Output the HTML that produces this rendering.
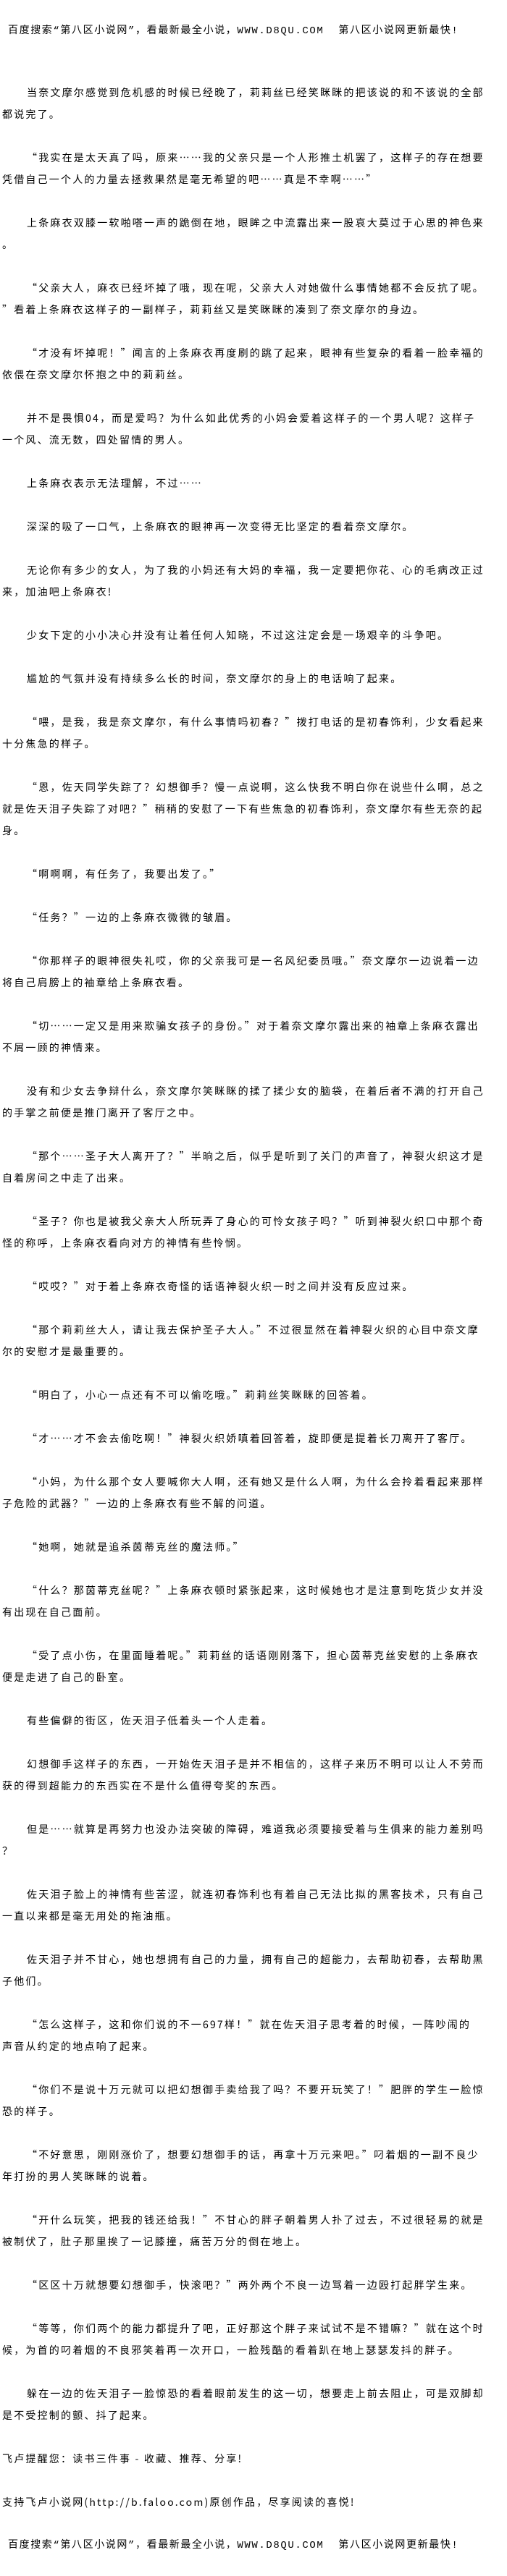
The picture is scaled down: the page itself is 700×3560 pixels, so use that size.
<!DOCTYPE html>
<html>
<head>
<meta charset="utf-8">
<style>
html,body{margin:0;padding:0;background:#fff;}
body{width:700px;height:3560px;overflow:hidden;position:relative;color:#000;
font-family:"Noto Sans CJK SC","Liberation Sans",sans-serif;font-size:14px;letter-spacing:2.2px;line-height:30px;}
.hd{position:absolute;left:11px;white-space:nowrap;font-family:"Liberation Mono","Noto Sans CJK SC",monospace;letter-spacing:1.6px;}
#main{position:absolute;left:3px;top:113px;width:697px;}
p{margin:0 0 30px 0;white-space:nowrap;text-indent:34px;}
p.ni{text-indent:0;}
</style>
</head>
<body>
<div class="hd" style="top:28px;">百度搜索“第八区小说网”，看最新最全小说，WWW.D8QU.COM&nbsp;&nbsp;第八区小说网更新最快!</div>
<div id="main">
<p>当奈文摩尔感觉到危机感的时候已经晚了，莉莉丝已经笑眯眯的把该说的和不该说的全部<br>都说完了。</p>
<p>“我实在是太天真了吗，原来……我的父亲只是一个人形推土机罢了，这样子的存在想要<br>凭借自己一个人的力量去拯救果然是毫无希望的吧……真是不幸啊……”</p>
<p>上条麻衣双膝一软啪嗒一声的跪倒在地，眼眸之中流露出来一股哀大莫过于心思的神色来<br>。</p>
<p>“父亲大人，麻衣已经坏掉了哦，现在呢，父亲大人对她做什么事情她都不会反抗了呢。<br>”看着上条麻衣这样子的一副样子，莉莉丝又是笑眯眯的凑到了奈文摩尔的身边。</p>
<p>“才没有坏掉呢！”闻言的上条麻衣再度刷的跳了起来，眼神有些复杂的看着一脸幸福的<br>依偎在奈文摩尔怀抱之中的莉莉丝。</p>
<p>并不是畏惧04，而是爱吗？为什么如此优秀的小妈会爱着这样子的一个男人呢？这样子<br>一个风、流无数，四处留情的男人。</p>
<p>上条麻衣表示无法理解，不过……</p>
<p>深深的吸了一口气，上条麻衣的眼神再一次变得无比坚定的看着奈文摩尔。</p>
<p>无论你有多少的女人，为了我的小妈还有大妈的幸福，我一定要把你花、心的毛病改正过<br>来，加油吧上条麻衣!</p>
<p>少女下定的小小决心并没有让着任何人知晓，不过这注定会是一场艰辛的斗争吧。</p>
<p>尴尬的气氛并没有持续多么长的时间，奈文摩尔的身上的电话响了起来。</p>
<p>“喂，是我，我是奈文摩尔，有什么事情吗初春？”拨打电话的是初春饰利，少女看起来<br>十分焦急的样子。</p>
<p>“恩，佐天同学失踪了？幻想御手？慢一点说啊，这么快我不明白你在说些什么啊，总之<br>就是佐天泪子失踪了对吧？”稍稍的安慰了一下有些焦急的初春饰利，奈文摩尔有些无奈的起<br>身。</p>
<p>“啊啊啊，有任务了，我要出发了。”</p>
<p>“任务？”一边的上条麻衣微微的皱眉。</p>
<p>“你那样子的眼神很失礼哎，你的父亲我可是一名风纪委员哦。”奈文摩尔一边说着一边<br>将自己肩膀上的袖章给上条麻衣看。</p>
<p>“切……一定又是用来欺骗女孩子的身份。”对于着奈文摩尔露出来的袖章上条麻衣露出<br>不屑一顾的神情来。</p>
<p>没有和少女去争辩什么，奈文摩尔笑眯眯的揉了揉少女的脑袋，在着后者不满的打开自己<br>的手掌之前便是推门离开了客厅之中。</p>
<p>“那个……圣子大人离开了？”半晌之后，似乎是听到了关门的声音了，神裂火织这才是<br>自着房间之中走了出来。</p>
<p>“圣子？你也是被我父亲大人所玩弄了身心的可怜女孩子吗？”听到神裂火织口中那个奇<br>怪的称呼，上条麻衣看向对方的神情有些怜悯。</p>
<p>“哎哎？”对于着上条麻衣奇怪的话语神裂火织一时之间并没有反应过来。</p>
<p>“那个莉莉丝大人，请让我去保护圣子大人。”不过很显然在着神裂火织的心目中奈文摩<br>尔的安慰才是最重要的。</p>
<p>“明白了，小心一点还有不可以偷吃哦。”莉莉丝笑眯眯的回答着。</p>
<p>“才……才不会去偷吃啊！”神裂火织娇嗔着回答着，旋即便是提着长刀离开了客厅。</p>
<p>“小妈，为什么那个女人要喊你大人啊，还有她又是什么人啊，为什么会拎着看起来那样<br>子危险的武器？”一边的上条麻衣有些不解的问道。</p>
<p>“她啊，她就是追杀茵蒂克丝的魔法师。”</p>
<p>“什么？那茵蒂克丝呢？”上条麻衣顿时紧张起来，这时候她也才是注意到吃货少女并没<br>有出现在自己面前。</p>
<p>“受了点小伤，在里面睡着呢。”莉莉丝的话语刚刚落下，担心茵蒂克丝安慰的上条麻衣<br>便是走进了自己的卧室。</p>
<p>有些偏僻的街区，佐天泪子低着头一个人走着。</p>
<p>幻想御手这样子的东西，一开始佐天泪子是并不相信的，这样子来历不明可以让人不劳而<br>获的得到超能力的东西实在不是什么值得夸奖的东西。</p>
<p>但是……就算是再努力也没办法突破的障碍，难道我必须要接受着与生俱来的能力差别吗<br>？</p>
<p>佐天泪子脸上的神情有些苦涩，就连初春饰利也有着自己无法比拟的黑客技术，只有自己<br>一直以来都是毫无用处的拖油瓶。</p>
<p>佐天泪子并不甘心，她也想拥有自己的力量，拥有自己的超能力，去帮助初春，去帮助黑<br>子他们。</p>
<p>“怎么这样子，这和你们说的不一697样！”就在佐天泪子思考着的时候，一阵吵闹的<br>声音从约定的地点响了起来。</p>
<p>“你们不是说十万元就可以把幻想御手卖给我了吗？不要开玩笑了！”肥胖的学生一脸惊<br>恐的样子。</p>
<p>“不好意思，刚刚涨价了，想要幻想御手的话，再拿十万元来吧。”叼着烟的一副不良少<br>年打扮的男人笑眯眯的说着。</p>
<p>“开什么玩笑，把我的钱还给我！”不甘心的胖子朝着男人扑了过去，不过很轻易的就是<br>被制伏了，肚子那里挨了一记膝撞，痛苦万分的倒在地上。</p>
<p>“区区十万就想要幻想御手，快滚吧？”两外两个不良一边骂着一边殴打起胖学生来。</p>
<p>“等等，你们两个的能力都提升了吧，正好那这个胖子来试试不是不错嘛？”就在这个时<br>候，为首的叼着烟的不良邪笑着再一次开口，一脸残酷的看着趴在地上瑟瑟发抖的胖子。</p>
<p>躲在一边的佐天泪子一脸惊恐的看着眼前发生的这一切，想要走上前去阻止，可是双脚却<br>是不受控制的颤、抖了起来。</p>
<p class="ni">飞卢提醒您：读书三件事 - 收藏、推荐、分享!</p>
<p class="ni">支持飞卢小说网(http://b.faloo.com)原创作品，尽享阅读的喜悦!</p>
</div>
<div class="hd" style="top:3503px;">百度搜索“第八区小说网”，看最新最全小说，WWW.D8QU.COM&nbsp;&nbsp;第八区小说网更新最快!</div>
</body>
</html>
